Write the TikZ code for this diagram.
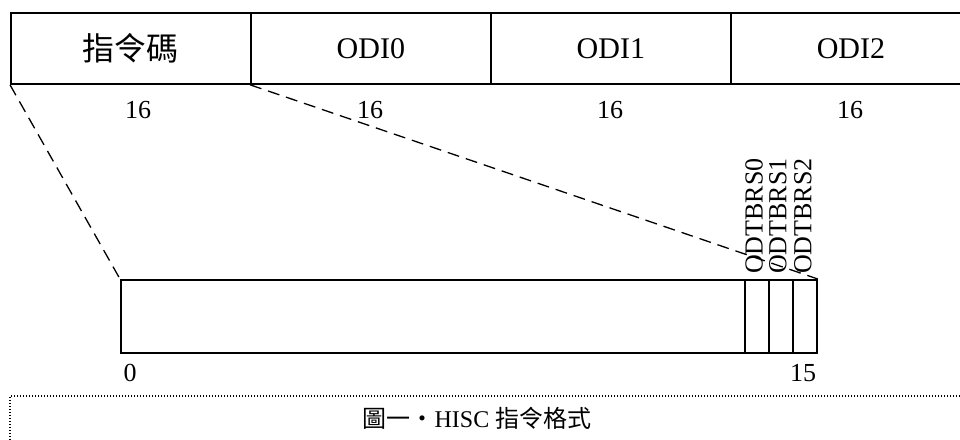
\documentclass[tikz,border=0pt]{standalone}
\usepackage{fontspec}
\setmainfont{Liberation Serif}
\newfontfamily\cjk{Noto Sans CJK TC}
\begin{document}
\begin{tikzpicture}[x=1pt,y=-1pt,
  cell/.style={draw,line width=1.8pt,minimum width=240pt,minimum height=71pt,inner sep=0pt,anchor=north west,font=\fontsize{30}{30}\selectfont},
  bits/.style={inner sep=0pt,font=\fontsize{26}{26}\selectfont},
  reg/.style={draw,line width=1.8pt,minimum height=73pt,inner sep=0pt,anchor=north west},
  vlab/.style={rotate=90,inner sep=0pt,font=\fontsize{26}{26}\selectfont},
  zoomline/.style={line width=1.3pt,dash pattern=on 12pt off 7pt}]
\useasboundingbox (0,0) rectangle (960,439);
\clip (0,0) rectangle (960,439);
% top instruction word
\node[cell] (c0) at (10,12) {\cjk\fontsize{32}{32}\selectfont 指令碼};
\node[cell] (c1) at (250,12) {ODI0};
\node[cell] (c2) at (490,12) {ODI1};
\node[cell] (c3) at (730,12) {ODI2};
% bit widths
\node[bits] (w0) at (138,110) {16};
\node[bits] (w1) at (370,110) {16};
\node[bits] (w2) at (610,110) {16};
\node[bits] (w3) at (850,110) {16};
% opcode register
\node[reg,minimum width=624pt] (big) at (120,279) {};
\node[reg,minimum width=24pt] (s0) at (744,279) {};
\node[reg,minimum width=24pt] (s1) at (768,279) {};
\node[reg,minimum width=24pt] (s2) at (792,279) {};
% zoom lines
\draw[zoomline] (c0.south west) -- (big.north west);
\draw[zoomline] (c1.south west) -- (s2.north east);
% vertical labels
\node[vlab] (l0) at (754,216) {ODTBRS0};
\node[vlab] (l1) at (778,216) {ODTBRS1};
\node[vlab] (l2) at (803,216) {ODTBRS2};
% bit indices
\node[bits] (b0) at (130,373) {0};
\node[bits] (b15) at (803,373) {15};
% caption
\coordinate (capTR) at (975,396);
\coordinate (capBL) at (10,450);
\draw[line width=1.4pt,dash pattern=on 1.4pt off 1.6pt] (capTR) -| (capBL);
\node[inner sep=0pt,font=\fontsize{24}{24}\selectfont] (cap) at (477,418) {{\cjk 圖一・}HISC {\cjk 指令格式}};
\end{tikzpicture}
\end{document}
